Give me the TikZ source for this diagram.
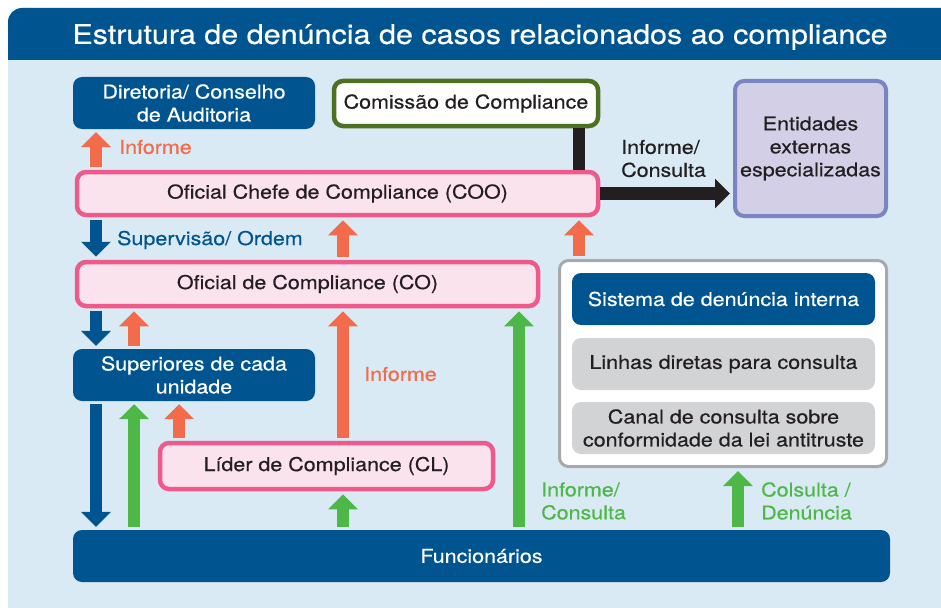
\documentclass[tikz,border=0pt]{standalone}
\usepackage{fontspec}
\setmainfont{TeX Gyre Heros}[FakeStretch=1.13, FakeBold=0.5]
\usetikzlibrary{arrows.meta}
\definecolor{dblue}{HTML}{005591}
\definecolor{bgblue}{HTML}{D9EAF5}
\definecolor{orng}{HTML}{F26B4A}
\definecolor{grn}{HTML}{4DB848}
\definecolor{pinkb}{HTML}{EE5A8A}
\definecolor{pinkf}{HTML}{FBE3EE}
\definecolor{olive}{HTML}{4E7021}
\definecolor{purb}{HTML}{7A84C3}
\definecolor{purf}{HTML}{D3CFE6}
\definecolor{grayf}{HTML}{D1D3D4}
\definecolor{grayb}{HTML}{A7A9AC}
\definecolor{txt}{HTML}{231F20}
\begin{document}
\begin{tikzpicture}[x=1pt,y=-1pt,
  box/.style={rounded corners=9pt, align=center, inner sep=0pt, text=txt,
    font=\fontsize{19}{23}\selectfont},
  bluebox/.style={box, fill=dblue, text=white},
  pinkbox/.style={box, draw=pinkb, fill=pinkf, line width=4.5pt},
  graybox/.style={box, fill=grayf},
  fat/.style={line width=12.5pt, -{Triangle[width=29pt,length=15pt]},
    shorten >=3pt, shorten <=3pt},
  lbl/.style={anchor=west, align=left, inner sep=0pt,
    font=\fontsize{19}{23}\selectfont}]
\useasboundingbox (0,0) rectangle (941,607);
\fill[white] (0,0) rectangle (941,607);
\begin{scope}
  \clip (0,0) rectangle (941,607);
  \path[rounded corners=14pt, clip] (8,8) rectangle (990,660);
  \fill[bgblue] (0,0) rectangle (990,660);
  \fill[dblue] (0,0) rectangle (990,60);
\end{scope}
\node[text=white, font=\fontsize{27}{31}\selectfont, inner sep=0pt] (title) at (480,37)
  {Estrutura de denúncia de casos relacionados ao compliance};

% boxes
\node[bluebox, minimum width=242pt, minimum height=52pt] (dir) at (194,103)
  {Diretoria/ Conselho\\de Auditoria};
\node[box, draw=olive, fill=white, line width=4.5pt, minimum width=264pt, minimum height=45pt]
  (com) at (466,103.5) {Comissão de Compliance};
\node[box, draw=purb, fill=purf, line width=4pt, minimum width=151pt, minimum height=135pt]
  (ent) at (810.5,148.5) {Entidades\\externas\\especializadas};
\node[pinkbox, minimum width=521pt, minimum height=43pt] (coo) at (337.5,193.5)
  {Oficial Chefe de Compliance (COO)};
\node[pinkbox, minimum width=461pt, minimum height=44pt] (co) at (307.5,284)
  {Oficial de Compliance (CO)};
\node[bluebox, minimum width=242pt, minimum height=52pt] (sup) at (194,375)
  {Superiores de cada\\unidade};
\node[pinkbox, minimum width=333pt, minimum height=46pt] (cl) at (326.5,466)
  {Líder de Compliance (CL)};
\node[bluebox, minimum width=817pt, minimum height=52pt] (fun) at (481.5,556)
  {Funcionários};
\node[box, draw=grayb, fill=white, line width=3pt, minimum width=327pt, minimum height=206pt]
  (pan) at (723,363.5) {};
\node[bluebox, minimum width=303pt, minimum height=52pt] (sis) at (723.5,299)
  {Sistema de denúncia interna};
\node[graybox, minimum width=303pt, minimum height=52pt] (lin) at (723.5,364)
  {Linhas diretas para consulta};
\node[graybox, minimum width=303pt, minimum height=52pt] (can) at (723.5,428)
  {Canal de consulta sobre\\conformidade da lei antitruste};

% x positions of the arrows
\coordinate (xa) at (96,0);
\coordinate (xb) at (134,0);
\coordinate (xc) at (179,0);
\coordinate (xd) at (343,0);
\coordinate (xe) at (519,0);
\coordinate (xf) at (579,0);
\coordinate (xg) at (738,0);

% connectors
\draw[line width=12pt, txt] (com.south -| xf) -- (coo.north -| xf);
\draw[fat, txt, shorten <=0pt] (coo.east) -- (coo.east -| ent.west);
\draw[fat, orng] (coo.north -| xa) -- (dir.south -| xa);
\draw[fat, dblue] (coo.south -| xa) -- (co.north -| xa);
\draw[fat, orng] (co.north -| xd) -- (coo.south -| xd);
\draw[fat, orng] (pan.north -| xf) -- (coo.south -| xf);
\draw[fat, dblue] (co.south -| xa) -- (sup.north -| xa);
\draw[fat, orng] (sup.north -| xb) -- (co.south -| xb);
\draw[fat, orng] (cl.north -| xd) -- (co.south -| xd);
\draw[fat, grn] (fun.north -| xe) -- (co.south -| xe);
\draw[fat, dblue] (sup.south -| xa) -- (fun.north -| xa);
\draw[fat, grn] (fun.north -| xb) -- (sup.south -| xb);
\draw[fat, orng] (cl.north -| xc) -- (sup.south -| xc);
\draw[fat, grn] (fun.north -| xd) -- (cl.south -| xd);
\draw[fat, grn] (fun.north -| xg) -- (pan.south -| xg);

% labels
\node[lbl, text=orng] (l1) at (119,147) {Informe};
\node[lbl, text=txt] (l2) at (621,158.5) {Informe/\\Consulta};
\node[lbl, text=dblue] (l3) at (117,240) {Supervisão/ Ordem};
\node[lbl, text=orng] (l4) at (364,374) {Informe};
\node[lbl, text=grn] (l5) at (541,501) {Informe/\\Consulta};
\node[lbl, text=grn] (l6) at (761,501) {Colsulta /\\Denúncia};
\end{tikzpicture}
\end{document}
